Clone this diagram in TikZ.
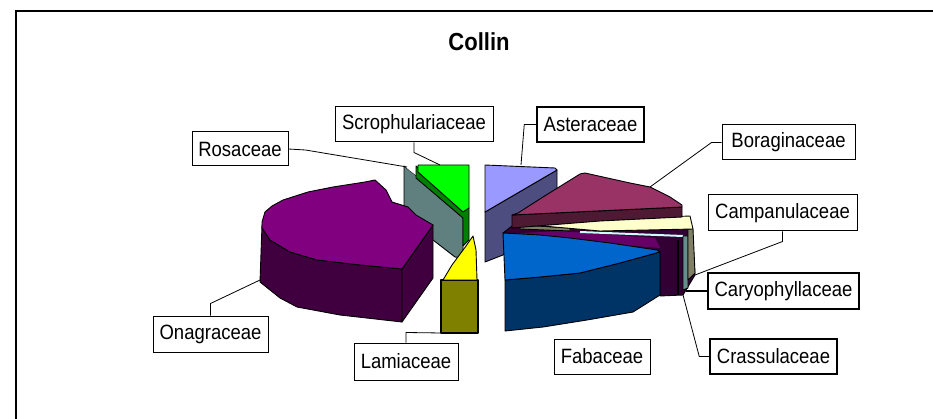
\documentclass[tikz,border=0pt]{standalone}
\usepackage{fontspec}
\setmainfont{Liberation Sans}
\definecolor{cRosa}{RGB}{96,128,128}
\definecolor{cScroD}{RGB}{0,128,0}
\definecolor{cScro}{RGB}{0,255,0}
\definecolor{cOnagD}{RGB}{64,0,64}
\definecolor{cOnag}{RGB}{128,0,128}
\definecolor{cAsterD}{RGB}{77,77,128}
\definecolor{cAster}{RGB}{153,153,255}
\definecolor{cCrassD}{RGB}{51,0,51}
\definecolor{cCrass}{RGB}{102,0,102}
\definecolor{cCaryo}{RGB}{204,255,255}
\definecolor{cCaryoD}{RGB}{102,140,140}
\definecolor{cCampD}{RGB}{128,128,102}
\definecolor{cCamp}{RGB}{255,255,204}
\definecolor{cBoragD}{RGB}{77,25,51}
\definecolor{cBorag}{RGB}{153,51,102}
\definecolor{cFabaD}{RGB}{0,51,102}
\definecolor{cFaba}{RGB}{0,102,204}
\definecolor{cLamiD}{RGB}{128,128,0}
\definecolor{cLami}{RGB}{255,255,0}
\newcommand{\lbltext}[1]{\scalebox{1}[1.12]{#1}}
\begin{document}
\begin{tikzpicture}[x=1pt,y=-1pt,
  lbl/.style={draw=black,line width=1pt,fill=white,inner sep=0pt,font=\fontsize{18.5}{20}\selectfont},
  lead/.style={draw=black,line width=0.8pt},
  face/.style={draw=black,line width=0.9pt,line join=round}]
\useasboundingbox (0,0) rectangle (933,419);
% frame
\draw[line width=1.3pt] (16,419) -- (16,11) -- (933,11);
\node (title) at (479,42) {\fontsize{22}{24}\selectfont\bfseries\lbltext{Collin}};

% ---- Rosaceae (gray) ----
\filldraw[face,fill=cRosa] (404,166) -- (463,212) -- (463,258) -- (455,257) -- (433,240) -- (404,225) -- cycle;
\draw[white,line width=0.8pt] (406,167) -- (462,211);
% ---- Scrophulariaceae (green) ----
\filldraw[face,fill=cScroD] (416,166) -- (469,208) -- (469,240) -- (463,246) -- (463,218) -- (416,178) -- cycle;
\filldraw[face,fill=cScro] (418,165) -- (469,165) -- (469,208) -- (463,212) -- (418,172) -- cycle;

% ---- Onagraceae (purple) ----
\filldraw[face,fill=cOnagD] (262,225) -- (260,282) -- (280,298) -- (297,307) -- (340,315) -- (402,322) -- (402,269) -- (360,265) -- (317,260) -- (290,252) -- (270,240) -- cycle;
\filldraw[face,fill=cOnagD] (402,269) -- (433,225) -- (433,278) -- (402,322) -- cycle;
\filldraw[face,fill=cOnag] (262,222) -- (265,212) -- (272,206) -- (283,200) -- (308,192) -- (333,187) -- (365,182) -- (375,180) -- (386,190) -- (392,202) -- (408,207) -- (416,215) -- (433,225) -- (402,269) -- (360,265) -- (317,260) -- (290,252) -- (270,240) -- (262,228) -- cycle;

% ---- Asteraceae (lavender) ----
\filldraw[face,fill=cAsterD] (485,212) -- (557,170) -- (557,200) -- (520,240) -- (503,255) -- (485,262) -- cycle;
\filldraw[face,fill=cAster] (485,165) -- (555,168) -- (557,170) -- (485,212) -- cycle;

% ---- right cluster filler (Crassulaceae side) ----
\filldraw[face,fill=cCrassD] (512,226) -- (682,217) -- (692,228) -- (695,275) -- (683,295) -- (660,296) -- (660,252) -- (503,233) -- cycle;
% Crassulaceae top band
\fill[cCrass] (505,234) -- (560,231) -- (655,238) -- (660,248) -- (560,240) -- (503,237) -- cycle;
% Caryophyllaceae light cyan edge and side
\draw[cCaryo,line width=2pt] (580,232) -- (683,236);
\filldraw[face,fill=cCaryoD] (683,236) -- (688,236) -- (688,288) -- (683,290) -- cycle;
% Campanulaceae side and top
\filldraw[face,fill=cCampD] (688,229) -- (693,229) -- (695,273) -- (688,280) -- cycle;
\filldraw[face,fill=cCampD] (520,225) -- (570,228) -- (570,231) -- (520,229) -- cycle;
\filldraw[face,fill=cCamp] (543,222) -- (690,216) -- (693,229) -- (600,231) -- (543,226) -- cycle;
\draw[black,line width=1.5pt] (678,240) -- (678,295);

% ---- Boraginaceae ----
\filldraw[face,fill=cBoragD] (512,215) -- (682,207) -- (682,217) -- (600,221) -- (512,228) -- cycle;
\filldraw[face,fill=cBorag] (512,215) -- (518,213) -- (543,197) -- (580,174) -- (585,173) -- (603,177) -- (630,183) -- (650,187) -- (670,197) -- (682,205) -- (682,207) -- cycle;

% ---- Fabaceae ----
\filldraw[face,fill=cFabaD] (505,280) -- (540,277) -- (580,273) -- (620,263) -- (660,252) -- (660,295) -- (633,312) -- (587,320) -- (543,327) -- (505,331) -- cycle;
\filldraw[face,fill=cFaba] (503,233) -- (540,235) -- (570,238) -- (610,243) -- (657,250) -- (660,252) -- (620,263) -- (580,273) -- (540,277) -- (505,280) -- cycle;

% ---- Lamiaceae ----
\filldraw[face,line width=1.6pt,fill=cLamiD] (441,280) rectangle (478,333);
\filldraw[face,fill=cLami] (443,280) -- (452,265) -- (466,246) -- (473,236) -- (476,250) -- (477,280) -- cycle;

% ---- leader end points ----
\coordinate (pscro) at (440,165);
\coordinate (prosa) at (407,167);
\coordinate (paster) at (521,165);
\coordinate (pborag) at (650,187);
\coordinate (pcampan) at (695,275);
\coordinate (pcaryo) at (686,291);
\coordinate (pcrass) at (683,295);
\coordinate (plami) at (442,333);
\coordinate (ponag) at (260,280);

% ---- labels ----
\node[lbl,minimum width=158pt,minimum height=35pt] (scro) at (414,124.5) {\lbltext{Scrophulariaceae}};
\node[lbl,minimum width=96pt,minimum height=34pt] (rosa) at (240,149) {\lbltext{Rosaceae}};
\node[lbl,line width=1.5pt,minimum width=107pt,minimum height=35pt] (aster) at (590.5,124.5) {\lbltext{Asteraceae}};
\node[lbl,minimum width=133pt,minimum height=35pt] (borag) at (788.5,142.5) {\lbltext{Boraginaceae}};
\node[lbl,minimum width=149pt,minimum height=36pt] (campan) at (782.5,213) {\lbltext{Campanulaceae}};
\node[lbl,line width=1.5pt,minimum width=151pt,minimum height=36pt] (caryo) at (783.5,291) {\lbltext{Caryophyllaceae}};
\node[lbl,line width=1.5pt,minimum width=127pt,minimum height=35pt] (crass) at (773.5,356.5) {\lbltext{Crassulaceae}};
\node[lbl,minimum width=96pt,minimum height=35pt] (faba) at (602,356.5) {\lbltext{Fabaceae}};
\node[lbl,minimum width=104pt,minimum height=37pt] (lami) at (406,361.5) {\lbltext{Lamiaceae}};
\node[lbl,minimum width=115pt,minimum height=36pt] (onag) at (210.5,334) {\lbltext{Onagraceae}};

% ---- leaders ----
\draw[lead] (scro.south) -- ++(0,10) -- (pscro);
\draw[lead] (rosa.east) -- ++(17,1) -- (prosa);
\draw[lead] (aster.west) -- ++(-12,0) -- (paster);
\draw[lead] (borag.west) -- ++(-10,0) -- (pborag);
\draw[lead] (campan.south) -- ++(0,10) -- (pcampan);
\draw[lead,line width=1.5pt] (caryo.west) -- (pcaryo);
\draw[lead] (crass.west) -- ++(-10,0) -- (pcrass);
\draw[lead] (lami.north) -- ++(0,-10) -- (plami);
\draw[lead] (onag.north) -- ++(0,-12) -- (ponag);
\end{tikzpicture}
\end{document}
